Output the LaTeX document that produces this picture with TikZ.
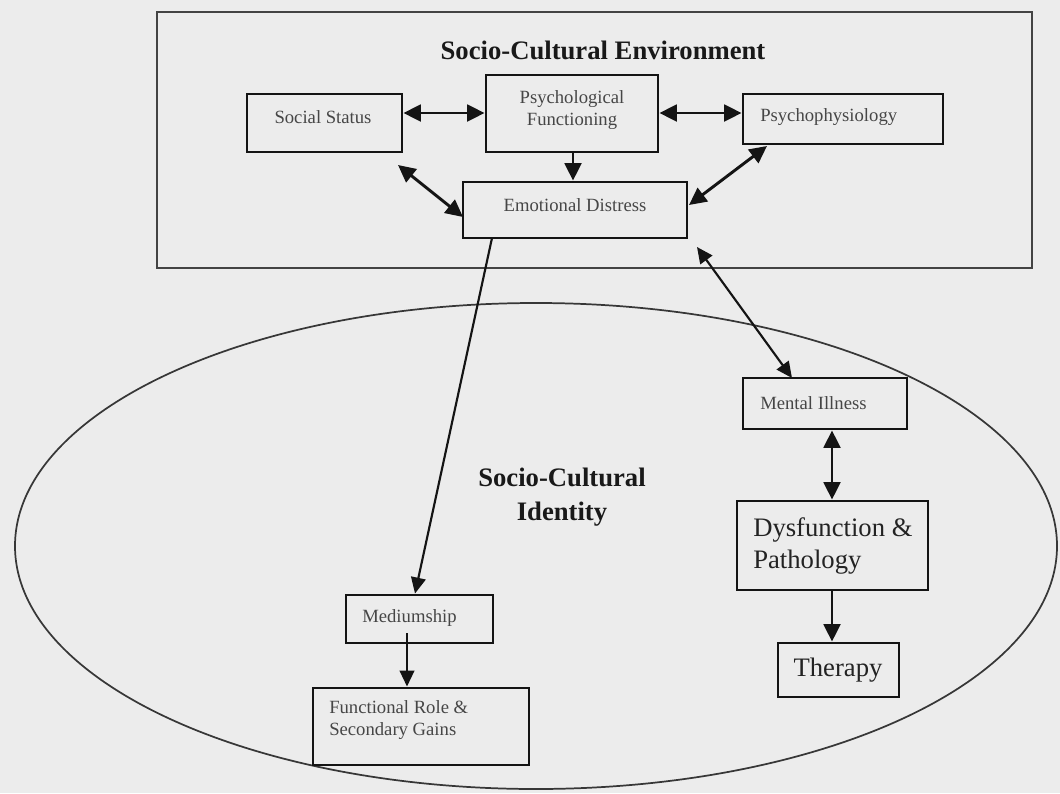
\documentclass[tikz,border=0pt]{standalone}
\usepackage{fontspec}
\setmainfont{Liberation Serif}
\usetikzlibrary{arrows.meta}
\definecolor{bgc}{RGB}{236,236,236}
\definecolor{linec}{RGB}{20,20,20}
\definecolor{smalltxt}{RGB}{70,70,70}
\definecolor{bigtxt}{RGB}{35,35,35}
\begin{document}
\begin{tikzpicture}[x=0.75pt,y=-0.75pt,
  box/.style={draw=linec, line width=2.2pt, fill=bgc, rectangle, inner sep=0pt},
  smalltext/.style={text=smalltxt, font=\fontsize{14}{17}\selectfont, inner sep=0pt, align=center},
  bigtext/.style={text=bigtxt, font=\fontsize{20}{24}\selectfont, inner sep=0pt, align=left},
  titletext/.style={text=black!90, font=\fontsize{20}{26}\selectfont\bfseries, inner sep=0pt, align=center},
  thickarrow/.style={draw=linec, line width=2.2pt, -{Triangle[length=13pt,width=12.5pt]}},
  thickdarrow/.style={draw=linec, line width=2.2pt, {Triangle[length=13pt,width=12.5pt]}-{Triangle[length=13pt,width=12.5pt]}},
  thinarrow/.style={draw=linec, line width=1.6pt, -{Triangle[length=12pt,width=11pt]}},
  thindarrow/.style={draw=linec, line width=1.6pt, {Triangle[length=12pt,width=11pt]}-{Triangle[length=12pt,width=11pt]}}
]
\useasboundingbox (0,0) rectangle (1060,793);
\fill[bgc] (0,0) rectangle (1060,793);

% outer environment frame and identity ellipse
\draw[linec!80, line width=1.6pt] (157,12) rectangle (1032,268);
\draw[linec!85, line width=1.3pt] (536,546) ellipse [x radius=390.75pt, y radius=182.25pt];

\node[titletext] (envtitle) at (603,50) {Socio-Cultural Environment};
\node[titletext] (idtitle) at (562,497) {Socio-Cultural\\Identity};

% boxes
\node[box, minimum width=116.25pt, minimum height=43.5pt] (ss) at (324.5,123) {};
\node[smalltext] (sst) at (323,117) {Social Status};

\node[box, minimum width=129pt, minimum height=57.75pt] (pf) at (572,113.5) {};
\node[smalltext] (pft) at (572,110) {Psychological\\Functioning};

\node[box, minimum width=150pt, minimum height=37.5pt] (pp) at (843,119) {};
\node[smalltext, anchor=west] (ppt) at (760,117) {Psychophysiology};

\node[box, minimum width=168pt, minimum height=42pt] (ed) at (575,210) {};
\node[smalltext] (edt) at (575,205) {Emotional Distress};

\node[box, minimum width=110.25pt, minimum height=36pt] (med) at (419.5,619) {};
\node[smalltext, anchor=west] (medt) at (362,618) {Mediumship};

\node[box, minimum width=162pt, minimum height=57.75pt] (fr) at (421,726.5) {};
\node[smalltext, anchor=north west, align=left] (frt) at (329,700) {Functional Role \&\\Secondary Gains};

\node[box, minimum width=123pt, minimum height=38.25pt] (mi) at (825,403.5) {};
\node[smalltext, anchor=west] (mit) at (760,403) {Mental Illness};

\node[box, minimum width=143.25pt, minimum height=66.75pt] (dp) at (832.5,545.5) {};
\node[bigtext, anchor=west] (dpt) at (753,546) {Dysfunction \&\\Pathology};

\node[box, minimum width=90.75pt, minimum height=40.5pt] (th) at (838.5,670) {};
\node[bigtext] (tht) at (838,670) {Therapy};

% free coordinates
\coordinate (sslow) at (398,165);
\coordinate (edleft) at (463,217);
\coordinate (pplow) at (767,146);
\coordinate (edright) at (689,205);
\coordinate (edout) at (492,238);
\coordinate (edfree) at (697,247);
\coordinate (mitop) at (792,378);
\coordinate (medout) at (407,633);

% connectors
\draw[thickdarrow] ([yshift=7.5pt]ss.east) -- ([yshift=0.375pt]pf.west);
\draw[thickdarrow] ([yshift=0.375pt]pf.east) -- ([yshift=4.5pt]pp.west);
\draw[thickarrow] (pf.south -| 573,0) -- (ed.north -| 573,0);
\draw[thickdarrow] (sslow) -- (edleft);
\draw[thickdarrow] (pplow) -- (edright);
\draw[thinarrow] (edout) -- (med.north -| 415,0);
\draw[thindarrow] (edfree) -- (mitop);
\draw[thickdarrow] (mi.south -| 832,0) -- (dp.north -| 832,0);
\draw[thickarrow] (dp.south -| 832,0) -- (th.north -| 832,0);
\draw[thinarrow] (medout) -- (fr.north -| 407,0);
\end{tikzpicture}
\end{document}
